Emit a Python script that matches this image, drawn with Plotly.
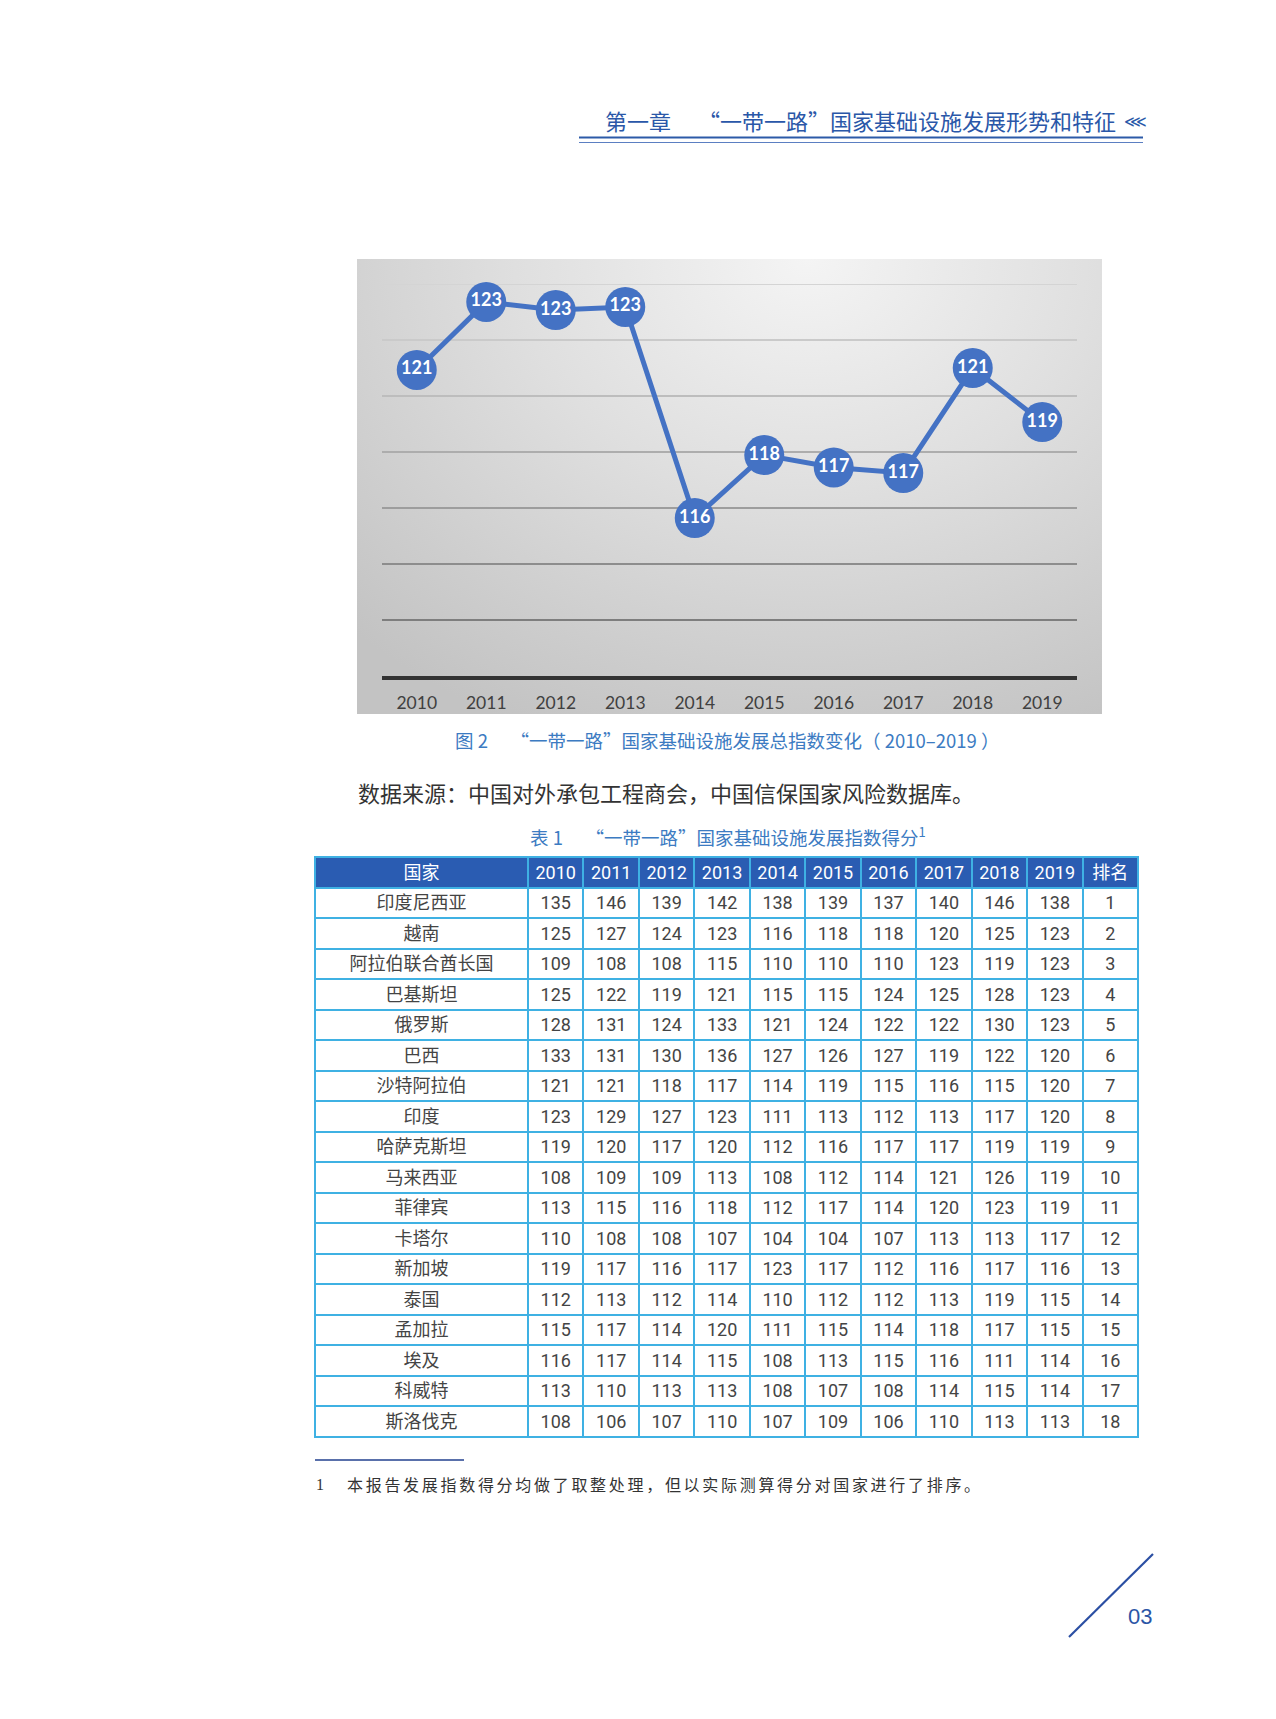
import base64
import plotly.graph_objects as go

PAGE_W, PAGE_H = 1276, 1719
M = 8                      # default body margin of the html page
W, H = PAGE_W - 2 * M, PAGE_H - 2 * M


def px(x):
    return (x - M) / W


def py(y):
    return 1 - (y - M) / H


# ---------------- chart data ----------------
years = ['2010', '2011', '2012', '2013', '2014', '2015', '2016', '2017', '2018', '2019']
index_values = [120.93, 123.36, 123.07, 123.18, 115.64, 117.89, 117.45, 117.25, 121.0, 119.07]
y_range = [110, 124]
y_ticks = [112, 114, 116, 118, 120, 122, 124]

# ---------------- table data ----------------
countries = ['印度尼西亚', '越南', '阿拉伯联合酋长国', '巴基斯坦', '俄罗斯', '巴西', '沙特阿拉伯', '印度',
             '哈萨克斯坦', '马来西亚', '菲律宾', '卡塔尔', '新加坡', '泰国', '孟加拉', '埃及', '科威特', '斯洛伐克']
s2010 = [135, 125, 109, 125, 128, 133, 121, 123, 119, 108, 113, 110, 119, 112, 115, 116, 113, 108]
s2011 = [146, 127, 108, 122, 131, 131, 121, 129, 120, 109, 115, 108, 117, 113, 117, 117, 110, 106]
s2012 = [139, 124, 108, 119, 124, 130, 118, 127, 117, 109, 116, 108, 116, 112, 114, 114, 113, 107]
s2013 = [142, 123, 115, 121, 133, 136, 117, 123, 120, 113, 118, 107, 117, 114, 120, 115, 113, 110]
s2014 = [138, 116, 110, 115, 121, 127, 114, 111, 112, 108, 112, 104, 123, 110, 111, 108, 108, 107]
s2015 = [139, 118, 110, 115, 124, 126, 119, 113, 116, 112, 117, 104, 117, 112, 115, 113, 107, 109]
s2016 = [137, 118, 110, 124, 122, 127, 115, 112, 117, 114, 114, 107, 112, 112, 114, 115, 108, 106]
s2017 = [140, 120, 123, 125, 122, 119, 116, 113, 117, 121, 120, 113, 116, 113, 118, 116, 114, 110]
s2018 = [146, 125, 119, 128, 130, 122, 115, 117, 119, 126, 123, 113, 117, 119, 117, 111, 115, 113]
s2019 = [138, 123, 123, 123, 123, 120, 120, 120, 119, 119, 119, 117, 116, 115, 115, 114, 114, 113]
ranks = [1, 2, 3, 4, 5, 6, 7, 8, 9, 10, 11, 12, 13, 14, 15, 16, 17, 18]
table_header = ['国家'] + years + ['排名']

# ---------------- styles ----------------
BLUE = '#4472c4'
grid_colors = ['#7e7e7e', '#8d8d8d', '#9d9d9d', '#adadad', '#bdbdbd', '#cacaca', '#d4d4d4']
CJK = 'Noto Sans CJK SC'

# radial-gradient background for the chart panel
svg = (
    '<svg xmlns="http://www.w3.org/2000/svg" width="745" height="455" viewBox="0 0 745 455">'
    '<defs><radialGradient id="g" gradientUnits="userSpaceOnUse" cx="450" cy="0" r="520" '
    'gradientTransform="translate(450 0) scale(1.25 1) translate(-450 0)">'
    '<stop offset="0" stop-color="#f4f4f4"/>'
    '<stop offset="0.45" stop-color="#dfdfdf"/>'
    '<stop offset="0.8" stop-color="#cdcdcd"/>'
    '<stop offset="1" stop-color="#c3c3c3"/>'
    '</radialGradient></defs>'
    '<rect width="745" height="455" fill="url(#g)"/></svg>'
)
bg_uri = 'data:image/svg+xml;base64,' + base64.b64encode(svg.encode()).decode()

fig = go.Figure()

fig.add_trace(go.Scatter(
    x=years, y=index_values,
    mode='lines+markers+text',
    line=dict(color=BLUE, width=5),
    marker=dict(size=40, color=BLUE),
    texttemplate='%{y:.0f}',
    textposition='middle center',
    textfont=dict(family='Lato, Open Sans, sans-serif', size=18, color='white', weight='bold'),
    cliponaxis=False, hoverinfo='skip', showlegend=False,
))

line_style = dict(color='#3fb1e3', width=2)
fig.add_trace(go.Table(
    domain=dict(x=[px(315), px(1138)], y=[py(1446), py(857)]),
    columnwidth=[213] + [55.45] * 11,
    header=dict(
        values=table_header,
        fill_color='#2a5cb2',
        line=line_style,
        font=dict(family='Roboto, ' + CJK, size=18, color='white'),
        align='center', height=30.5,
    ),
    cells=dict(
        values=[countries, s2010, s2011, s2012, s2013, s2014, s2015, s2016, s2017, s2018, s2019, ranks],
        fill_color='white',
        line=line_style,
        font=dict(family='Roboto, ' + CJK, size=18, color='#444444'),
        align='center', height=30.5,
    ),
))

shapes = []
for t, c in zip(y_ticks, grid_colors):
    shapes.append(dict(type='line', xref='x domain', yref='y', x0=0, x1=1, y0=t, y1=t,
                       line=dict(color=c, width=1.8), layer='below'))
# header rules
shapes.append(dict(type='line', xref='paper', yref='paper', x0=px(579), x1=px(1143), y0=py(137.5), y1=py(137.5),
                   line=dict(color='#2c5aa8', width=2)))
shapes.append(dict(type='line', xref='paper', yref='paper', x0=px(579), x1=px(1143), y0=py(142.5), y1=py(142.5),
                   line=dict(color='#5b7fc2', width=1.2)))
# footnote rule
shapes.append(dict(type='line', xref='paper', yref='paper', x0=px(315), x1=px(464), y0=py(1460), y1=py(1460),
                   line=dict(color='#22418f', width=1.5)))
# page corner diagonal
shapes.append(dict(type='line', xref='paper', yref='paper', x0=px(1069), x1=px(1153), y0=py(1637), y1=py(1554),
                   line=dict(color='#2b4fa3', width=2.2)))

ann = []


def note(text, x, y, size, color, family=CJK, xanchor='center'):
    ann.append(dict(text=text, x=px(x), y=py(y), xref='paper', yref='paper', showarrow=False,
                    xanchor=xanchor, yanchor='middle', font=dict(family=family, size=size, color=color)))


note('第一章\u3000\u00a0“一带一路”国家基础设施发展形势和特征', 1118, 120, 22, '#2a57a8', xanchor='right')
note('⋘', 1122, 121, 16, '#2a57a8', family='DejaVu Sans', xanchor='left')
note('图 2\u3000 “一带一路”国家基础设施发展总指数变化（ 2010–2019 ）', 727, 740, 18.5, '#3c7bc2')
note('数据来源：中国对外承包工程商会，中国信保国家风险数据库。', 356, 792, 22, '#333333', xanchor='left')
note('表 1\u3000 “一带一路”国家基础设施发展指数得分<sup>1</sup>', 728, 836, 18.5, '#3c7bc2')
note('1', 314, 1484, 16, '#333333', family='Liberation Serif', xanchor='left')
note('<span style="letter-spacing:2.7px">本报告发展指数得分均做了取整处理，但以实际测算得分对国家进行了排序。</span>',
     345, 1484, 16, '#333333', xanchor='left')
note('03', 1140, 1616, 22, '#2b55a6', family='Liberation Sans')

fig.update_layout(
    width=W, height=H,
    margin=dict(l=0, r=0, t=0, b=0),
    paper_bgcolor='white',
    plot_bgcolor='rgba(0,0,0,0)',
    showlegend=False,
    shapes=shapes,
    annotations=ann,
    images=[dict(source=bg_uri, xref='paper', yref='paper', x=px(357), y=py(259),
                 sizex=745 / W, sizey=455 / H, xanchor='left', yanchor='top',
                 sizing='stretch', layer='below')],
    xaxis=dict(type='category', domain=[px(382), px(1077)], range=[-0.5, 9.5],
               showgrid=False, zeroline=False, showline=True, linecolor='#333333', linewidth=4,
               ticks='', ticklabelstandoff=8,
               tickfont=dict(family='Lato, Open Sans, sans-serif', size=17.5, color='#404040'),
               fixedrange=True),
    yaxis=dict(domain=[py(676), py(284)], range=y_range, showgrid=False, zeroline=False,
               showline=False, showticklabels=False, ticks='', fixedrange=True),
)

fig.write_html('out.html')
